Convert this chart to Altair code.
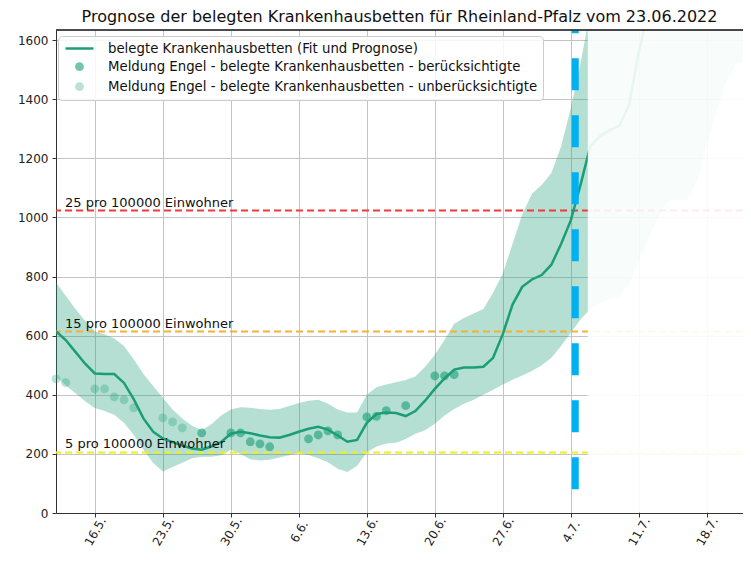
import altair as alt
import pandas as pd

# ---------------- data ----------------
TITLE = "Prognose der belegten Krankenhausbetten für Rheinland-Pfalz vom 23.06.2022"
L_FIT = "belegte Krankenhausbetten (Fit und Prognose)"
L_IN = "Meldung Engel - belegte Krankenhausbetten - berücksichtigte"
L_OUT = "Meldung Engel - belegte Krankenhausbetten - unberücksichtigte"
LEGEND = [L_FIT, L_IN, L_OUT]

START = "2022-05-12"
# fit / prognosis line (daily from 12.5.)
FIT = [615, 585, 545, 505, 472, 470, 470, 440, 385, 320,
       275, 252, 240, 228, 218, 214, 225, 240, 268, 275,
       270, 262, 256, 255, 264, 275, 285, 292, 282, 262,
       241, 247, 305, 335, 340, 338, 328, 345, 380, 420,
       455, 485, 492, 492, 495, 525, 605, 705, 765, 790,
       805, 840, 910, 990, 1110, 1240, 1275, 1295, 1310, 1380,
       1560, 1700]
# uncertainty band (daily from 12.5.)
UPPER = [780, 735, 690, 650, 615, 605, 590, 565, 520, 470,
         430, 390, 350, 320, 295, 280, 300, 330, 350, 358,
         356, 352, 349, 352, 362, 372, 380, 383, 370, 350,
         340, 340, 400, 425, 435, 442, 450, 462, 495, 535,
         585, 640, 660, 675, 690, 745, 810, 910, 1010, 1080,
         1110, 1150, 1240, 1370, 1520, 1700, 1900, 1900, 1900, 1900,
         1900, 1900, 1900, 1900, 1900, 1900, 1900, 1900, 1900, 1900,
         1900, 1900]
LOWER = [461, 432, 405, 378, 355, 345, 332, 305, 265, 214,
         170, 140, 156, 170, 185, 190, 190, 195, 214, 200,
         182, 178, 180, 188, 195, 203, 196, 185, 172, 150,
         139, 160, 205, 225, 235, 238, 250, 268, 280, 302,
         330, 352, 370, 383, 400, 417, 435, 451, 465, 480,
         500, 525, 565, 610, 655, 690, 712, 722, 732, 775,
         850, 930, 1000, 1055, 1058, 1061, 1122, 1245, 1360, 1460,
         1519, 1525]

# reported values
PT_DATES = ["2022-05-12", "2022-05-13", "2022-05-16", "2022-05-17", "2022-05-18",
            "2022-05-19", "2022-05-20", "2022-05-23", "2022-05-24", "2022-05-25",
            "2022-05-27", "2022-05-30", "2022-05-31", "2022-06-01", "2022-06-02",
            "2022-06-03", "2022-06-07", "2022-06-08", "2022-06-09", "2022-06-10",
            "2022-06-13", "2022-06-14", "2022-06-15", "2022-06-17", "2022-06-20",
            "2022-06-21", "2022-06-22"]
PT_VALUES = [454, 441, 420, 420, 393, 383, 356, 322, 308, 288,
             271, 271, 271, 241, 234, 224, 251, 264, 278, 264,
             325, 327, 346, 363, 464, 464, 468]
PT_USED = [False] * 10 + [True] * 17

# thresholds (per 100000 inhabitants)
THR_VALUES = [1023, 614, 205]
THR_LABELS = ["25 pro 100000 Einwohner", "15 pro 100000 Einwohner", "5 pro 100000 Einwohner"]
THR_COLORS = ["#ee3b3b", "#f2b23a", "#eeee22"]

TODAY_MARK = "2022-07-04T11:00:00"
FADE_FROM = "2022-07-05T18:00:00"
X_DOMAIN = [(2022, 5, 12, 0, 0), (2022, 7, 21, 17, 30)]
TICK_DATES = ["2022-05-16", "2022-05-23", "2022-05-30", "2022-06-06", "2022-06-13",
              "2022-06-20", "2022-06-27", "2022-07-04", "2022-07-11", "2022-07-18"]
Y_TICKS = [0, 200, 400, 600, 800, 1000, 1200, 1400, 1600]
Y_MAX = 1634

# ---------------- tables ----------------
def days(n):
    return pd.date_range(START, periods=n, freq="D").strftime("%Y-%m-%dT%H:%M:%S").tolist()

fit_df = pd.DataFrame({"date": days(len(FIT)), "v": FIT})
band_df = pd.DataFrame({"date": days(len(UPPER)), "lo": LOWER, "hi": UPPER})
pt_df = pd.DataFrame({"date": [d + "T00:00:00" for d in PT_DATES], "v": PT_VALUES,
                      "serie": [L_IN if u else L_OUT for u in PT_USED]})
thr_df = pd.DataFrame({"v": THR_VALUES, "label": THR_LABELS, "c": THR_COLORS})
today_df = pd.DataFrame({"date": [TODAY_MARK], "v": [80]})
fade_df = pd.DataFrame({"date": [FADE_FROM]})

W, H = 687, 483
FONT = "DejaVu Sans"
TEAL = "#1b9e77"
LINE_SYMBOL = "M-2.15,-0.19L2.15,-0.19L2.15,0.19L-2.15,0.19Z"  # legend glyph for the fitted line

def dt(t):
    return alt.DateTime(year=t[0], month=t[1], date=t[2], hours=t[3], minutes=t[4])

xscale = alt.Scale(domain=[dt(X_DOMAIN[0]), dt(X_DOMAIN[1])])
xaxis = alt.Axis(values=[alt.DateTime(year=int(s[:4]), month=int(s[5:7]), date=int(s[8:10])) for s in TICK_DATES],
                 format="%-d.%-m.", formatType="time", labelAngle=-60, labelAlign="center",
                 labelBaseline="middle", labelPadding=14, title=None, grid=True)
yscale = alt.Scale(domain=[0, Y_MAX], nice=False, zero=True)
yaxis = alt.Axis(values=Y_TICKS, format="d", title=None, grid=True, labelPadding=4)

X = alt.X("date:T", scale=xscale, axis=xaxis)
Y = lambda f: alt.Y(f, scale=yscale, axis=yaxis)

band = alt.Chart(band_df).mark_area(color=TEAL, opacity=0.33, clip=True).encode(
    x=X, y=Y("lo:Q"), y2="hi:Q")

thr = alt.Chart(thr_df).mark_rule(strokeDash=[7, 4], strokeWidth=2).encode(
    y=Y("v:Q"), color=alt.Color("c:N", scale=None))

thr_text = alt.Chart(thr_df).mark_text(align="left", baseline="bottom", dy=-1, fontSize=13,
                                       font=FONT, color="#111").encode(
    x=alt.value(9), y=Y("v:Q"), text="label:N")

line = alt.Chart(fit_df).mark_line(color=TEAL, strokeWidth=2.5, clip=True).encode(
    x=X, y=Y("v:Q"))

leg = alt.Legend(title=None, orient="none", legendX=2, legendY=6,
                 fillColor="rgba(255,255,255,0.85)", strokeColor="#cccccc", cornerRadius=4,
                 padding=5, labelFontSize=13.3, labelFont=FONT, labelColor="#111",
                 labelLimit=700, rowPadding=4, symbolOffset=9, labelOffset=21)

points = alt.Chart(pt_df).mark_point(filled=True, color=TEAL).encode(
    x=X, y=Y("v:Q"),
    shape=alt.Shape("serie:N", scale=alt.Scale(type="ordinal", domain=LEGEND,
                                               range=[LINE_SYMBOL, "circle", "circle"]), legend=leg),
    opacity=alt.Opacity("serie:N", scale=alt.Scale(type="ordinal", domain=LEGEND, range=[1.0, 0.6, 0.3]), legend=leg),
    size=alt.Size("serie:N", scale=alt.Scale(type="ordinal", domain=LEGEND, range=[169, 78, 78]), legend=leg),
)

today = alt.Chart(today_df).mark_rule(color="#00b0f0", strokeWidth=7, strokeDash=[32, 25]).encode(
    x=X, y=Y("v:Q"), y2=alt.value(0))

fade = alt.Chart(fade_df).mark_rect(color="white", opacity=0.9).encode(
    x=X, x2=alt.value(W), y=alt.value(1), y2=alt.value(H - 1))

top_border = alt.Chart(thr_df).mark_rule(color="#333333", strokeWidth=1).encode(
    y=alt.value(0))

chart = alt.layer(band, thr, line, points, today, fade, thr_text, top_border).properties(
    width=W, height=H,
    title=alt.Title(TITLE, fontSize=16, font=FONT, fontWeight="normal", color="#111", offset=2, anchor="middle"),
    autosize=alt.AutoSizeParams(type="none"),
    padding={"left": 48, "top": 22, "right": 0, "bottom": 42},
).configure_view(stroke=None).configure_axis(
    labelFont=FONT, labelFontSize=12, labelColor="#222", tickColor="#333", tickSize=4,
    domainColor="#333", gridColor="#c4c4c4", gridWidth=1,
)

chart.save("out.html", embed_options={"renderer": "svg", "actions": False})
